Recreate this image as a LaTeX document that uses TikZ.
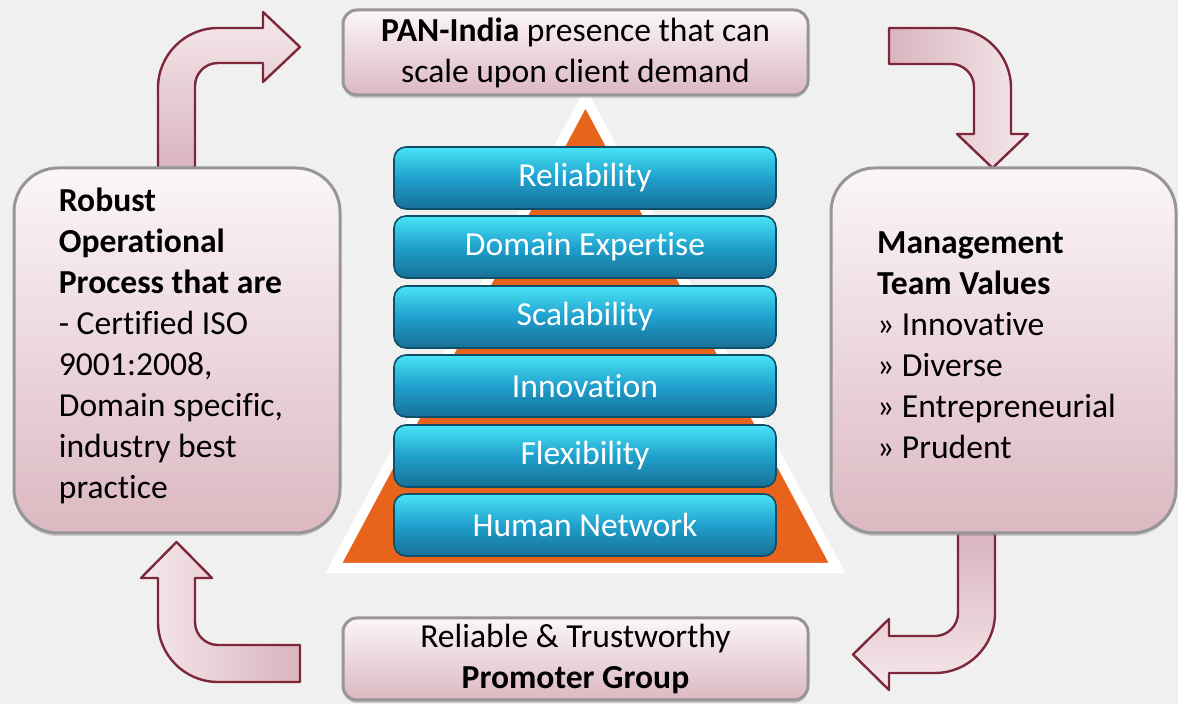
\documentclass[tikz,border=0pt]{standalone}
\usepackage{fontspec}
\setmainfont{Carlito}[Ligatures=NoCommon]
\usepackage{xcolor}
\usepackage{tikz}
\usetikzlibrary{shadows}

\definecolor{bgcolor}{RGB}{240,240,240}
\definecolor{arrowline}{RGB}{125,40,58}
\definecolor{arrowdark}{RGB}{218,180,190}
\definecolor{arrowlight}{RGB}{245,232,236}
\definecolor{boxtop}{RGB}{251,246,247}
\definecolor{boxbot}{RGB}{220,184,193}
\definecolor{boxedge}{RGB}{150,150,150}
\definecolor{bartop}{RGB}{72,228,246}
\definecolor{barmid}{RGB}{32,160,205}
\definecolor{barbot}{RGB}{22,112,150}
\definecolor{pyrorange}{RGB}{232,100,28}

\begin{document}
\begin{tikzpicture}[x=0.5pt,y=0.5pt,
  every node/.style={font=\fontsize{16.8}{20.5}\selectfont},
  infobox/.style={draw=boxedge,line width=1.5pt,top color=boxtop,bottom color=boxbot,
    align=left,inner sep=0pt,drop shadow={opacity=0.35,shadow xshift=0pt,shadow yshift=-1.5pt}},
  bar/.style={draw=barbot!70!black,line width=0.8pt,rounded corners=6pt,
    top color=bartop,bottom color=barbot,middle color=barmid,text=white,
    minimum width=191pt,minimum height=31pt,inner sep=0pt},
  bentarrow/.style={draw=arrowline,line width=1.2pt,line join=round}]

% Background
\fill[bgcolor] (0,0) rectangle (1178,704);

% Pyramid
\draw[white,line width=5pt,fill=pyrorange] (334,136) -- (585.5,606) -- (837,136) -- cycle;

% Bars of the pyramid
\node[bar] (reliability) at (585,526) {Reliability};
\node[bar] (expertise) at (585,457) {Domain Expertise};
\node[bar] (scalability) at (585,387) {Scalability};
\node[bar] (innovation) at (585,318) {Innovation};
\node[bar] (flexibility) at (585,248) {Flexibility};
\node[bar] (network) at (585,179) {Human Network};

% Bent arrows round the cycle
\draw[bentarrow,bottom color=arrowdark,top color=arrowlight]
  (158,536) -- (158,616) arc[start angle=180,end angle=90,radius=60] -- (263,676) -- (263,692)
  -- (300,657) -- (263,622) -- (263,641) -- (218,641) arc[start angle=90,end angle=180,radius=23]
  -- (195,536) -- cycle;
\draw[bentarrow,left color=arrowdark,right color=arrowlight]
  (889,676) -- (951,676) arc[start angle=90,end angle=0,radius=60] -- (1011,570) -- (1028,570)
  -- (992.5,536) -- (957,570) -- (974,570) -- (974,617) arc[start angle=0,end angle=90,radius=23]
  -- (889,640) -- cycle;
\draw[bentarrow,top color=arrowdark,bottom color=arrowlight]
  (958,171) -- (958,91) arc[start angle=0,end angle=-90,radius=23] -- (889,68) -- (889,85)
  -- (853,49.5) -- (889,14) -- (889,31) -- (935,31) arc[start angle=-90,end angle=0,radius=60]
  -- (995,171) -- cycle;
\draw[bentarrow,right color=arrowdark,left color=arrowlight]
  (300,22) -- (218,22) arc[start angle=270,end angle=180,radius=60] -- (158,126) -- (141,126)
  -- (176.5,162) -- (212,126) -- (195,126) -- (195,82) arc[start angle=180,end angle=270,radius=23]
  -- (300,59) -- cycle;

% Boxes
\node[infobox,rounded corners=7pt,minimum width=232.5pt,minimum height=42.5pt,align=center] (pan)
  at (575.5,651.5) {\textbf{PAN-India} presence that can\\scale upon client demand};
\node[infobox,rounded corners=22pt,minimum width=163pt,minimum height=182.5pt] (robust)
  at (177,353.5) {};
\node[infobox,rounded corners=22pt,minimum width=172.5pt,minimum height=182.5pt] (management)
  at (1003.5,353.5) {};
\node[infobox,rounded corners=7pt,minimum width=232.5pt,minimum height=41pt,align=center] (promoter)
  at (575.5,45) {Reliable \& Trustworthy\\\textbf{Promoter Group}};

% Box texts
\node[align=left] (robusttext) at ([xshift=-3pt,yshift=2.5pt]robust.center)
  {\textbf{Robust}\\\textbf{Operational}\\\textbf{Process that are}\\- Certified ISO\\9001:2008,\\Domain specific,\\industry best\\practice};
\node[align=left] (managementtext) at ([xshift=-3.5pt,yshift=2.5pt]management.center)
  {\textbf{Management}\\\textbf{Team Values}\\» Innovative\\» Diverse\\» Entrepreneurial\\» Prudent};
\end{tikzpicture}
\end{document}
